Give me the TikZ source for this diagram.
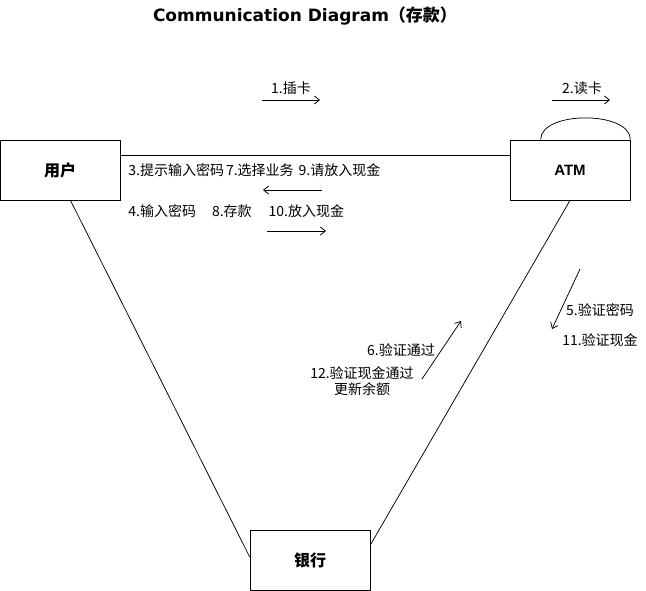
\documentclass[tikz,border=0pt]{standalone}
\usepackage{fontspec}
\setmainfont{Liberation Sans}
\newfontfamily\cjk{Noto Sans CJK SC}
\newfontfamily\titlefont{DejaVu Sans}
\usetikzlibrary{arrows.meta}

\begin{document}
\begin{tikzpicture}[x=1pt, y=-1pt, line width=.75pt,
		obj/.style={draw, minimum width=120pt, minimum height=60pt, inner sep=0pt, font=\cjk\fontsize{16}{19}\selectfont\bfseries},
		msg/.style={inner sep=0pt, font=\cjk\fontsize{14}{16.5}\selectfont},
		flow/.style={-{Straight Barb[length=5pt,width=8pt]}}]
		\useasboundingbox (0, 0) rectangle (646, 591);
		\node[font=\titlefont\fontsize{17}{20}\selectfont\bfseries] (title) at (305, 16) {Communication Diagram{\cjk\bfseries（存款）}};
		% objects
		\node[obj] (user) at (60, 170) {用户};
		\node[obj, font=\fontsize{15}{18}\selectfont\bfseries] (atm) at (570, 170) {ATM};
		\node[obj] (bank) at (310, 560) {银行};
		% links
		\draw (user.14) -- (atm.166);
		\draw (user.-71.6) -- (bank.177);
		\draw (atm.south) -- (bank.14);
		\draw (atm.134) .. controls ([yshift=29pt]atm.134) and ([yshift=29pt]atm.north east) .. (atm.north east);
		% messages
		\node[msg] (insert) at (291, 88) {1.插卡};
		\node[msg] (read) at (582, 88) {2.读卡};
		\node[msg, anchor=west] (prompt) at (128, 170) {3.提示输入密码\hspace{2pt}7.选择业务\hspace{5pt}9.请放入现金};
		\node[msg, anchor=west] (input) at (128, 211) {4.输入密码\hspace{16pt}8.存款\hspace{17pt}10.放入现金};
		\node[msg] (verify) at (600, 310) {5.验证密码};
		\node[msg] (check) at (600, 340) {11.验证现金};
		\node[msg] (pass) at (401, 350) {6.验证通过};
		\node[msg, align=center] (update) at (362, 381) {12.验证现金通过\\更新余额};
		% message arrows
		\coordinate (a1s) at (262, 100); \coordinate (a1e) at (320, 100);
		\coordinate (a2s) at (552, 100); \coordinate (a2e) at (610, 100);
		\coordinate (a3s) at (322, 190); \coordinate (a3e) at (263, 190);
		\coordinate (a4s) at (267, 231); \coordinate (a4e) at (326, 231);
		\coordinate (a5s) at (580, 269); \coordinate (a5e) at (552, 329);
		\coordinate (a6s) at (422, 379); \coordinate (a6e) at (461, 321);
		\draw[flow] (a1s) -- (a1e);
		\draw[flow] (a2s) -- (a2e);
		\draw[flow] (a3s) -- (a3e);
		\draw[flow] (a4s) -- (a4e);
		\draw[flow] (a5s) -- (a5e);
		\draw[flow] (a6s) -- (a6e);
\end{tikzpicture}
\end{document}
